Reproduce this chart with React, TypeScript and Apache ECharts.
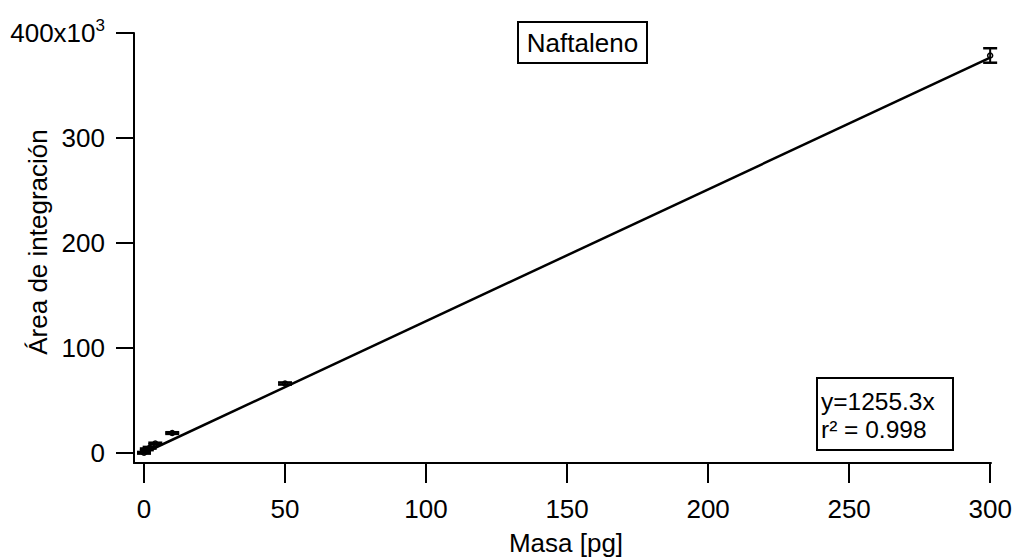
import React, { useEffect, useRef } from "react";
import * as echarts from "echarts";

// Masa [pg]
const masa = [0, 1, 2, 4, 10, 50, 300];
// Área de integración (x10^3)
const area = [0.2, 3.5, 5, 9, 19, 66.2, 378.6];
const areaErr = [0.8, 0.8, 0.8, 0.8, 0.8, 1, 6.9];
// Fit line y = 1255.3x (in x10^3)
const fitX = [0, 300];
const fitY = [0, 376.6];
const xTicks = [0, 50, 100, 150, 200, 250, 300];
const yTicks = [0, 100, 200, 300, 400];

const FONT = "Liberation Sans, Arial, sans-serif";
const FS = 26;

export default function App() {
  const ref = useRef<HTMLDivElement>(null);
  useEffect(() => {
    if (!ref.current) return;
    const chart = echarts.init(ref.current, null, { renderer: "svg" });
    const axisCommon = {
      type: "value" as const,
      axisLine: { show: true, onZero: false, lineStyle: { color: "#000", width: 2 } },
      splitLine: { show: false },
    };
    chart.setOption({
      animation: false,
      backgroundColor: "#fff",
      textStyle: { fontFamily: FONT },
      grid: { left: 134, right: 25, top: 33, bottom: 96, containLabel: false, outerBoundsMode: "none" },
      xAxis: {
        ...axisCommon,
        min: -3.55,
        max: 300.3,
        axisTick: { show: true, inside: false, length: 20, lineStyle: { color: "#000", width: 2 }, customValues: xTicks },
        axisLabel: { customValues: xTicks, margin: 33, fontSize: FS, color: "#000", fontFamily: FONT },
      },
      yAxis: {
        ...axisCommon,
        min: -9.52,
        max: 400,
        axisTick: { show: true, inside: false, length: 18, lineStyle: { color: "#000", width: 2 }, customValues: yTicks },
        axisLabel: {
          customValues: yTicks,
          margin: 29,
          fontSize: FS,
          color: "#000",
          fontFamily: FONT,
          formatter: (v: number) => (v === 400 ? "{m|400x10}{s|3}" : String(v)),
          rich: {
            m: { fontSize: FS, color: "#000", fontFamily: FONT },
            s: { fontSize: 17, color: "#000", fontFamily: FONT, padding: [0, 0, 16, 0] },
          },
        },
      },
      series: [
        {
          type: "line",
          data: fitX.map((x, i) => [x, fitY[i]]),
          symbol: "none",
          lineStyle: { color: "#000", width: 2.5 },
          z: 2,
        },
        {
          type: "custom",
          data: masa.map((x, i) => [x, area[i], areaErr[i]]),
          z: 3,
          renderItem: (params: any, api: any) => {
            const x = api.value(0);
            const y = api.value(1);
            const e = api.value(2);
            const c = api.coord([x, y]);
            const hi = api.coord([x, y + e]);
            const lo = api.coord([x, y - e]);
            const hw = 7;
            const st = { stroke: "#000", lineWidth: 2 };
            return {
              type: "group",
              children: [
                { type: "line", shape: { x1: c[0], y1: hi[1], x2: c[0], y2: lo[1] }, style: st },
                { type: "line", shape: { x1: c[0] - hw, y1: hi[1], x2: c[0] + hw, y2: hi[1] }, style: { stroke: "#000", lineWidth: 2.5 } },
                { type: "line", shape: { x1: c[0] - hw, y1: lo[1], x2: c[0] + hw, y2: lo[1] }, style: { stroke: "#000", lineWidth: 2.5 } },
                { type: "circle", shape: { cx: c[0], cy: c[1], r: 2.5 }, style: { fill: "none", stroke: "#000", lineWidth: 1.5 } },
              ],
            };
          },
        },
      ],
      graphic: [
        {
          type: "rect",
          shape: { x: 518, y: 22, width: 129, height: 41 },
          style: { fill: "#fff", stroke: "#000", lineWidth: 2 },
          z: 10,
        },
        {
          type: "text",
          x: 582.5,
          y: 43,
          style: { text: "Naftaleno", fontSize: FS, fontFamily: FONT, fill: "#000", align: "center", verticalAlign: "middle" },
          z: 11,
        },
        {
          type: "rect",
          shape: { x: 817, y: 378, width: 136, height: 72 },
          style: { fill: "#fff", stroke: "#000", lineWidth: 2 },
          z: 10,
        },
        {
          type: "text",
          x: 821,
          y: 401,
          style: { text: "y=1255.3x", fontSize: 24.5, fontFamily: FONT, fill: "#000", align: "left", verticalAlign: "middle" },
          z: 11,
        },
        {
          type: "text",
          x: 821,
          y: 429,
          style: { text: "r² = 0.998", fontSize: 24.5, fontFamily: FONT, fill: "#000", align: "left", verticalAlign: "middle" },
          z: 11,
        },
        {
          type: "text",
          x: 38,
          y: 242,
          rotation: Math.PI / 2,
          style: { text: "Área de integración", fontSize: FS, fontFamily: FONT, fill: "#000", align: "center", verticalAlign: "middle" },
        },
        {
          type: "text",
          x: 566,
          y: 543,
          style: { text: "Masa [pg]", fontSize: FS, fontFamily: FONT, fill: "#000", align: "center", verticalAlign: "middle" },
        },
      ],
    });
    return () => chart.dispose();
  }, []);
  return <div ref={ref} style={{ position: "absolute", left: 0, top: 0, width: 1016, height: 559 }} />;
}
